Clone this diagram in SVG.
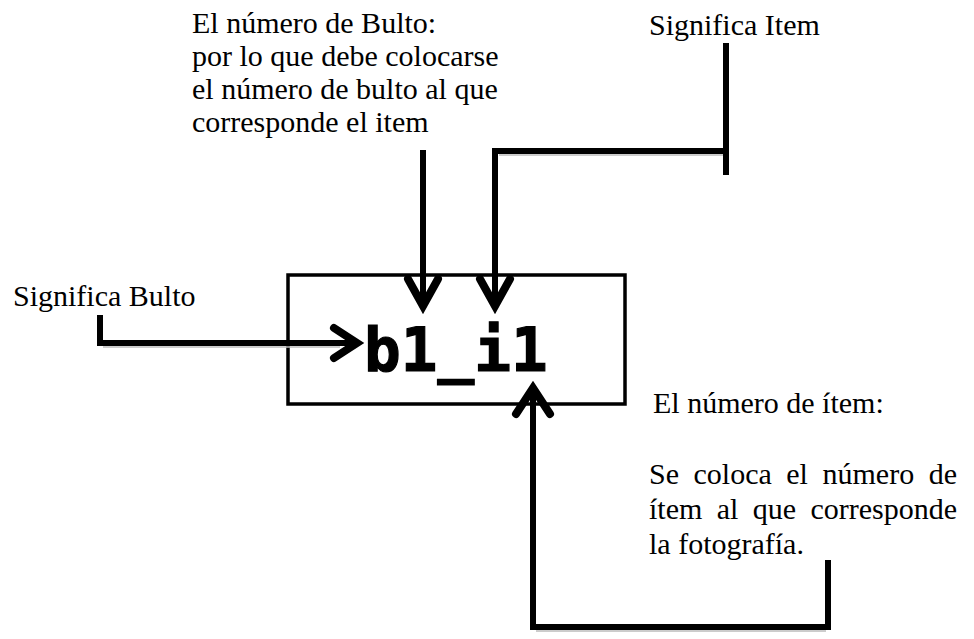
<svg xmlns="http://www.w3.org/2000/svg" width="974" height="639" viewBox="0 0 974 639">
<style>
.t{font-family:"Liberation Serif","Times New Roman",serif;font-size:30px;fill:#000}
.e{text-anchor:end}
.ln{fill:none;stroke:#000;stroke-width:6;stroke-linecap:square;stroke-linejoin:miter}
.ah{fill:none;stroke:#000;stroke-width:8;stroke-linecap:round;stroke-linejoin:miter}
.sh{fill:none;stroke:#bbb;stroke-width:1.5}
</style>
<rect width="974" height="639" fill="#fff"/>
<g id="label-bulto-num">
<text class="t" x="192" y="33">El número de Bulto:</text>
<text class="t" x="192" y="66">por lo que debe colocarse</text>
<text class="t" x="192" y="99">el número de bulto al que</text>
<text class="t" x="192" y="132">corresponde el item</text>
</g>
<g id="label-item"><text class="t" x="649" y="35">Significa Item</text></g>
<g id="label-bulto"><text class="t" x="13" y="306">Significa Bulto</text></g>
<g id="label-item-num">
<text class="t" x="653" y="413">El número de ítem:</text>
<text class="t" x="649" y="484">Se</text>
<text class="t" x="693.5" y="484">coloca</text>
<text class="t" x="786.3" y="484">el</text>
<text class="t" x="822.5" y="484">número</text>
<text class="t e" x="957" y="484">de</text>
<text class="t" x="649" y="519">ítem</text>
<text class="t" x="716.7" y="519">al</text>
<text class="t" x="752.8" y="519">que</text>
<text class="t e" x="957" y="519">corresponde</text>
<text class="t" x="649" y="554">la fotografía.</text>
</g>
<g id="box">
<rect x="288" y="275" width="337" height="129" fill="none" stroke="#000" stroke-width="3.5"/>
<text x="364" y="371" font-family="'DejaVu Sans Mono',monospace" font-weight="bold" font-size="61" stroke="#000" stroke-width="1.2">b1_i1</text>
</g>
<g id="connectors">
<polyline class="ln" points="100,318 100,343 352,343"/>
<line class="sh" x1="103" y1="347" x2="340" y2="347"/>
<polyline class="ah" points="334,328 357,343 334,358"/>
<line class="ln" x1="423" y1="153" x2="423" y2="303"/>
<polyline class="ah" points="408,279 423,306 438,279"/>
<polyline class="ln" points="726,46 726,172"/>
<polyline class="ln" points="726,151 495,151 495,303"/>
<line class="sh" x1="499" y1="155" x2="723" y2="155"/>
<polyline class="ah" points="480,279 495,306 510,279"/>
<polyline class="ln" points="533,392 533,627 828,627 828,563"/>
<line class="sh" x1="536" y1="631" x2="826" y2="631"/>
<polyline class="ah" points="516,414 533,388 550,414"/>
</g>
</svg>
